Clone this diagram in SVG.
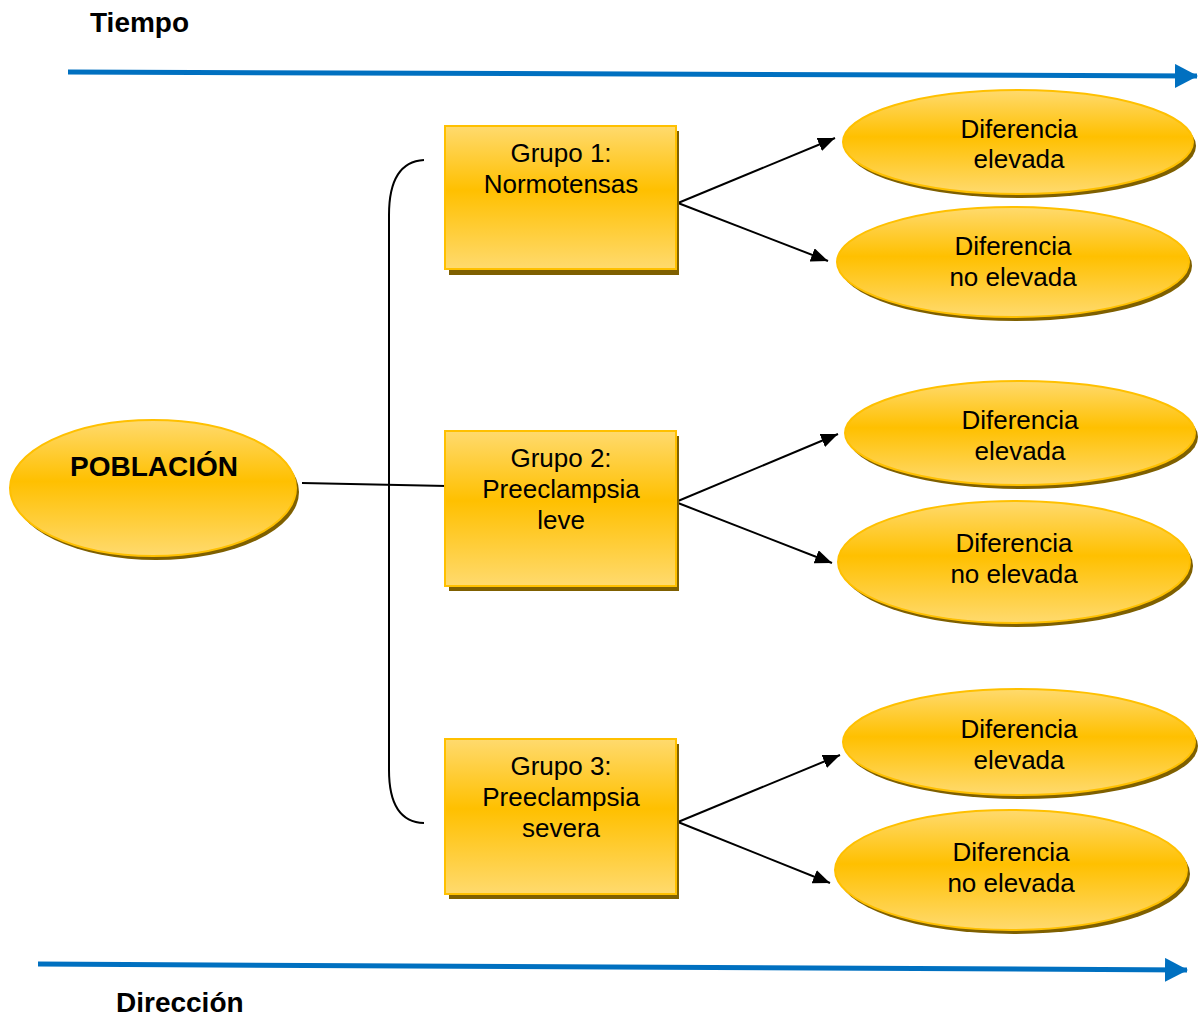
<svg xmlns="http://www.w3.org/2000/svg" width="1199" height="1018" viewBox="0 0 1199 1018">
<defs>
<linearGradient id="g" x1="0" y1="0" x2="0" y2="1">
<stop offset="0" stop-color="#FFDA6E"/>
<stop offset="0.45" stop-color="#FFC000"/>
<stop offset="1" stop-color="#FFDA6E"/>
</linearGradient>
<marker id="ah" viewBox="0 0 17 14" refX="17" refY="7" markerWidth="17" markerHeight="14" markerUnits="userSpaceOnUse" orient="auto">
<path d="M0,0 L17,7 L0,14 z" fill="#000"/>
</marker>
<marker id="bh" viewBox="0 0 23 24" refX="22" refY="12" markerWidth="23" markerHeight="24" markerUnits="userSpaceOnUse" orient="auto">
<path d="M0,0 L23,12 L0,24 z" fill="#0070C0"/>
</marker>
</defs>
<style>
.sh{fill:#7F6000;}
.nd{fill:url(#g);stroke:#FFC000;stroke-width:2;}
.t{font-family:"Liberation Sans",Arial,sans-serif;font-size:26px;fill:#000;text-anchor:middle;}
.b{font-family:"Liberation Sans",Arial,sans-serif;font-size:28px;font-weight:bold;fill:#000;}
.c{stroke:#000;stroke-width:2;fill:none;}
.ar{stroke:#000;stroke-width:2;fill:none;marker-end:url(#ah);}
.blue{stroke:#0070C0;stroke-width:5;fill:none;marker-end:url(#bh);}
</style>

<text class="b" x="90" y="32">Tiempo</text>
<text class="b" x="116" y="1012">Dirección</text>

<g id="connectors">
<line class="blue" x1="68" y1="72" x2="1197" y2="76"/>
<line class="blue" x1="38" y1="964" x2="1187" y2="970"/>
<line class="c" x1="302" y1="483" x2="447" y2="486"/>
<path class="c" d="M424,160 Q389,162 389,215 L389,770 Q389,822 424,823"/>
<line class="ar" x1="678" y1="203" x2="835" y2="138"/>
<line class="ar" x1="678" y1="203" x2="828" y2="261"/>
<line class="ar" x1="678" y1="501" x2="838" y2="434"/>
<line class="ar" x1="678" y1="503" x2="832" y2="563"/>
<line class="ar" x1="678" y1="822" x2="840" y2="755"/>
<line class="ar" x1="678" y1="822" x2="830" y2="883"/>
</g>

<g id="poblacion">
<ellipse class="sh" cx="156" cy="492" rx="143" ry="68"/>
<ellipse class="nd" cx="153" cy="488" rx="143" ry="68"/>
<text class="b" x="154" y="476" text-anchor="middle" font-size="26">POBLACIÓN</text>
</g>

<g id="grupo1">
<rect class="sh" x="449" y="131" width="230" height="144"/>
<rect class="nd" x="445" y="126" width="231" height="143"/>
<text class="t" x="561" y="162">Grupo 1:</text>
<text class="t" x="561" y="193">Normotensas</text>
</g>

<g id="grupo2">
<rect class="sh" x="449" y="436" width="230" height="155"/>
<rect class="nd" x="445" y="431" width="231" height="155"/>
<text class="t" x="561" y="467">Grupo 2:</text>
<text class="t" x="561" y="498">Preeclampsia</text>
<text class="t" x="561" y="529">leve</text>
</g>

<g id="grupo3">
<rect class="sh" x="449" y="744" width="230" height="155"/>
<rect class="nd" x="445" y="739" width="231" height="155"/>
<text class="t" x="561" y="775">Grupo 3:</text>
<text class="t" x="561" y="806">Preeclampsia</text>
<text class="t" x="561" y="837">severa</text>
</g>

<g id="g1-elevada">
<ellipse class="sh" cx="1021" cy="146" rx="175" ry="52"/>
<ellipse class="nd" cx="1018" cy="142" rx="175" ry="52"/>
<text class="t" x="1019" y="138">Diferencia</text>
<text class="t" x="1019" y="168">elevada</text>
</g>
<g id="g1-no-elevada">
<ellipse class="sh" cx="1016" cy="266" rx="176" ry="55"/>
<ellipse class="nd" cx="1013" cy="262" rx="176" ry="55"/>
<text class="t" x="1013" y="255">Diferencia</text>
<text class="t" x="1013" y="286">no elevada</text>
</g>

<g id="g2-elevada">
<ellipse class="sh" cx="1023" cy="437" rx="175" ry="52"/>
<ellipse class="nd" cx="1020" cy="433" rx="175" ry="52"/>
<text class="t" x="1020" y="429">Diferencia</text>
<text class="t" x="1020" y="460">elevada</text>
</g>
<g id="g2-no-elevada">
<ellipse class="sh" cx="1017" cy="566" rx="176" ry="61"/>
<ellipse class="nd" cx="1014" cy="562" rx="176" ry="61"/>
<text class="t" x="1014" y="552">Diferencia</text>
<text class="t" x="1014" y="583">no elevada</text>
</g>

<g id="g3-elevada">
<ellipse class="sh" cx="1022" cy="746" rx="176" ry="53"/>
<ellipse class="nd" cx="1019" cy="742" rx="176" ry="53"/>
<text class="t" x="1019" y="738">Diferencia</text>
<text class="t" x="1019" y="769">elevada</text>
</g>
<g id="g3-no-elevada">
<ellipse class="sh" cx="1014" cy="874" rx="176" ry="60"/>
<ellipse class="nd" cx="1011" cy="870" rx="176" ry="60"/>
<text class="t" x="1011" y="861">Diferencia</text>
<text class="t" x="1011" y="892">no elevada</text>
</g>
</svg>
